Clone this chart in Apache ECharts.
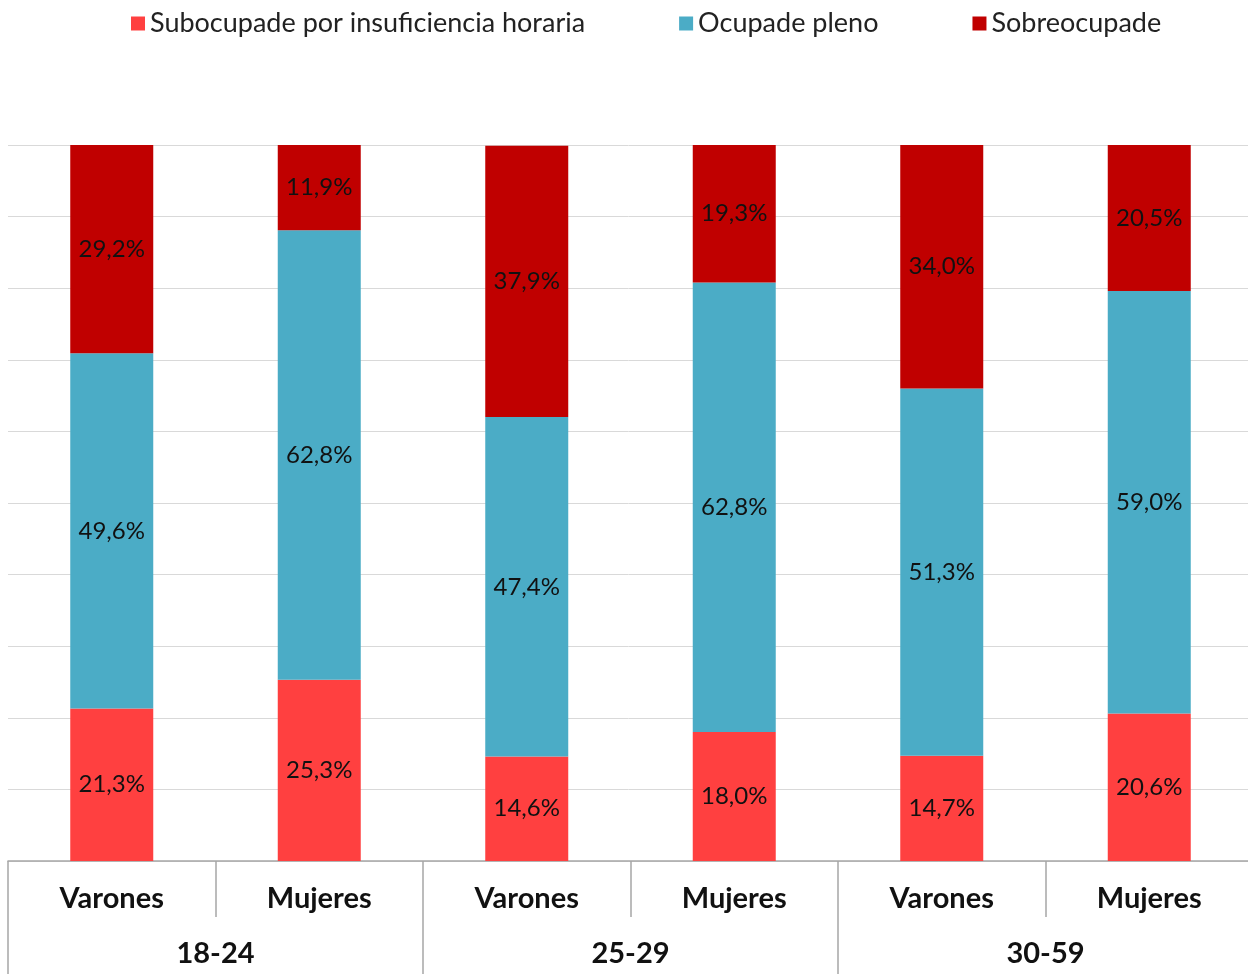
<!DOCTYPE html>
<html>
<head>
<meta charset="utf-8">
<script src="https://cdn.jsdelivr.net/npm/echarts@6/dist/echarts.min.js"></script>
<style>
  html, body { margin: 0; padding: 0; background: #fff; }
  #chart { width: 1248px; height: 974px; }
</style>
</head>
<body>
<div id="chart"></div>
<script>
const categories = ['Varones', 'Mujeres', 'Varones', 'Mujeres', 'Varones', 'Mujeres'];
const groups = ['18-24', '25-29', '30-59'];
const subocupade = [21.3, 25.3, 14.6, 18.0, 14.7, 20.6];
const ocupadePleno = [49.6, 62.8, 47.4, 62.8, 51.3, 59.0];
const sobreocupade = [29.2, 11.9, 37.9, 19.3, 34.0, 20.5];

const font = 'Lato, "Open Sans", sans-serif';

function pct(p) {
  return p.value.toFixed(1).replace('.', ',') + '%';
}

const barLabel = {
  show: true,
  position: 'inside',
  formatter: pct,
  color: '#111',
  fontSize: 24,
  fontFamily: font
};

let option = {
  animation: false,
  legend: {
    top: 5,
    left: 126,
    itemWidth: 14,
    itemHeight: 14,
    itemGap: 94,
    icon: 'rect',
    textStyle: { fontSize: 27, color: '#222', fontFamily: font }
  },
  grid: { left: 8, width: 1245, top: 145, bottom: 113, outerBoundsMode: 'none', containLabel: false },
  xAxis: [
    {
      type: 'category',
      data: categories,
      axisLine: { lineStyle: { color: '#a6a6a6', width: 1.5 } },
      axisTick: { show: true, interval: 0, length: 56, lineStyle: { color: '#a6a6a6', width: 1.5 } },
      axisLabel: { margin: 23, fontSize: 29, fontWeight: 'bold', color: '#111', fontFamily: font }
    },
    {
      type: 'category',
      data: groups,
      position: 'bottom',
      axisLine: { show: false },
      axisTick: { show: true, interval: 0, length: 113, lineStyle: { color: '#a6a6a6', width: 1.5 } },
      axisLabel: { margin: 78, fontSize: 29, fontWeight: 'bold', color: '#111', fontFamily: font }
    }
  ],
  yAxis: {
    type: 'value',
    min: 0,
    max: 100,
    interval: 10,
    axisLabel: { show: false },
    axisLine: { show: false },
    axisTick: { show: false },
    splitLine: { lineStyle: { color: '#d9d9d9', width: 1 } }
  },
  series: [
    {
      name: 'Subocupade por insuficiencia horaria',
      type: 'bar',
      stack: 'total',
      barWidth: '40%',
      data: subocupade,
      itemStyle: { color: '#ff4040' },
      label: barLabel
    },
    {
      name: 'Ocupade pleno',
      type: 'bar',
      stack: 'total',
      data: ocupadePleno,
      itemStyle: { color: '#4bacc6' },
      label: barLabel
    },
    {
      name: 'Sobreocupade',
      type: 'bar',
      stack: 'total',
      data: sobreocupade,
      itemStyle: { color: '#c00000' },
      label: barLabel
    }
  ]
};

let chart = echarts.init(document.getElementById('chart'));
chart.setOption(option);
</script>
</body>
</html>
